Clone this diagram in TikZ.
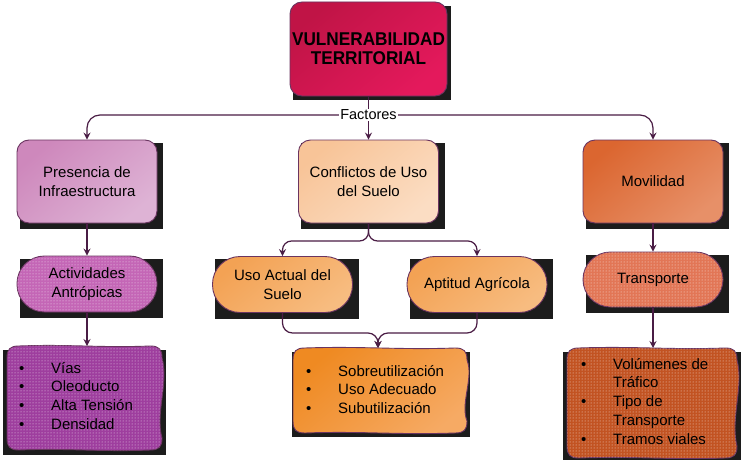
\documentclass[tikz,border=0pt]{standalone}
\usepackage{fontspec}
\setmainfont{Liberation Sans}
\newfontfamily\titlefont[FakeStretch=0.93]{Liberation Sans}
\usetikzlibrary{patterns,arrows.meta,backgrounds}
\definecolor{topA}{HTML}{C01446}
\definecolor{topB}{HTML}{E4195C}
\definecolor{presA}{HTML}{CE88BC}
\definecolor{presB}{HTML}{DEB3D5}
\definecolor{confA}{HTML}{F8C498}
\definecolor{confB}{HTML}{FBDDC3}
\definecolor{movA}{HTML}{DB6630}
\definecolor{movB}{HTML}{E79068}
\definecolor{actBase}{HTML}{C466B6}
\definecolor{usoA}{HTML}{F3A254}
\definecolor{usoB}{HTML}{F7BC80}
\definecolor{traBase}{HTML}{E27656}
\definecolor{viasBase}{HTML}{9E3E9E}
\definecolor{sobA}{HTML}{EF8A22}
\definecolor{sobB}{HTML}{F6AA64}
\definecolor{volBase}{HTML}{C25322}
\definecolor{edgec}{HTML}{6A3460}
\definecolor{linec}{HTML}{4A1D45}
\definecolor{shadowc}{HTML}{1C1C1C}
\newcommand\tapeshape[5]{%
\path[#5] (#1,#2+12) .. controls (#1,#2+3) and (#1+3,#2) .. (#1+12,#2)
 .. controls ({#1+0.4*(#3-#1)},#2-2) and ({#1+0.6*(#3-#1)},#2+2) .. (#3-12,#2)
 .. controls (#3-3,#2) and (#3,#2+3) .. (#3,#2+12)
 .. controls (#3+7,{#2+0.35*(#4-#2)}) and (#3-7,{#2+0.65*(#4-#2)}) .. (#3,#4-12)
 .. controls (#3,#4-3) and (#3-3,#4) .. (#3-12,#4)
 .. controls ({#1+0.6*(#3-#1)},#4+2) and ({#1+0.4*(#3-#1)},#4-2) .. (#1+12,#4)
 .. controls (#1+3,#4) and (#1,#4-3) .. (#1,#4-12) -- cycle;}
\newcommand\bul{\makebox[33pt][l]{\hspace{1pt}\textbullet}}
\begin{document}
\begin{tikzpicture}[x=1pt,y=-1pt,
  conn/.style={draw=linec, line width=1.2pt},
  arr/.style={conn, -{Stealth[length=7pt,width=7pt,inset=2.5pt]}},
  basebox/.style={draw=edgec, line width=0.9pt, align=center, inner sep=0pt,
    font=\fontsize{15}{18.3}\selectfont},
  box1/.style={basebox, rounded corners=12pt, minimum width=140pt, minimum height=83pt},
  pill/.style={basebox, rounded corners=27.5pt, minimum width=140pt, minimum height=56pt},
  grad/.style 2 args={top color=#1, bottom color=#2, shading angle=40},
  dotty/.style={fill=#1, postaction={pattern=dots, pattern color=white!80!#1}},
  listtext/.style={anchor=base west, inner sep=0pt, font=\fontsize{15}{18.9}\selectfont},
  shad/.style={fill=shadowc}
]
\useasboundingbox (0,0) rectangle (741,460);

% top node
\node[basebox, rounded corners=12pt, minimum width=157pt, minimum height=94pt,
  grad={topA}{topB}, font=\titlefont\bfseries\fontsize{18.5}{19}\selectfont]
  (top) at (368.5,49) {VULNERABILIDAD\\TERRITORIAL};

% level 1
\node[box1, grad={presA}{presB}] (pres) at (87,181.5) {Presencia de\\Infraestructura};
\node[box1, grad={confA}{confB}] (conf) at (368.5,181.5) {Conflictos de Uso\\del Suelo};
\node[box1, grad={movA}{movB}] (mov) at (653,181.5) {Movilidad};

% level 2
\node[pill, dotty=actBase] (act) at (87,284) {Actividades\\Antrópicas};
\node[pill, grad={usoA}{usoB}] (uso) at (282.5,284.5) {Uso Actual del\\Suelo};
\node[pill, grad={usoA}{usoB}] (apt) at (477,284.5) {Aptitud Agrícola};
\node[pill, dotty=traBase, minimum height=55pt] (tra) at (653,279.5) {Transporte};

% level 3 shapes
\tapeshape{7}{346}{162}{450}{draw=edgec, line width=0.9pt, dotty=viasBase}
\tapeshape{293}{348}{467}{433}{draw=edgec, line width=0.9pt, grad={sobA}{sobB}}
\tapeshape{567}{348}{737}{458}{draw=edgec, line width=0.9pt, dotty=volBase}
\coordinate (viasT) at (87,346);
\coordinate (sobT) at (378,348);
\coordinate (volT) at (653,348);

\node[listtext] (vias) at (18,373) {\begin{tabular}[t]{@{}l@{}l@{}}
\bul & Vías\\ \bul & Oleoducto\\ \bul & Alta Tensión\\ \bul & Densidad\end{tabular}};
\node[listtext] (sob) at (305,376) {\begin{tabular}[t]{@{}l@{}l@{}}
\bul & Sobreutilización\\ \bul & Uso Adecuado\\ \bul & Subutilización\end{tabular}};
\node[listtext] (vol) at (580,369) {\begin{tabular}[t]{@{}l@{}l@{}}
\bul & Volúmenes de\\ & Tráfico\\ \bul & Tipo de\\ & Transporte\\ \bul & Tramos viales\end{tabular}};

% connectors
\coordinate (fj) at (368.5,115);
\draw[conn] (top.south) -- (fj);
\draw[arr, rounded corners=13pt] (fj) -| (pres.north);
\draw[arr, rounded corners=13pt] (fj) -| (mov.north);
\draw[arr] (fj) -- (conf.north);
\node[fill=white, inner sep=1pt, font=\fontsize{14.5}{16}\selectfont] (fac) at (fj) {Factores};

\draw[arr] (pres.south) -- (act.north);
\draw[arr] (act.south) -- (viasT);

\coordinate (cj) at (368.5,241);
\draw[arr, rounded corners=9pt] (conf.south) -- (cj) -| (uso.north);
\draw[arr, rounded corners=9pt] (conf.south) -- (cj) -| (apt.north);

\coordinate (mj) at (378,333);
\draw[arr, rounded corners=10pt] (uso.south) |- (mj) -- (sobT);
\draw[arr, rounded corners=10pt] (apt.south) |- (mj) -- (sobT);

\draw[arr] (mov.south) -- (tra.north);
\draw[arr] (tra.south) -- (volT);

% background and shadows
\begin{scope}[on background layer]
\fill[white] (0,0) rectangle (741,460);
\fill[shad] ([xshift=3pt,yshift=-4pt]top.north west) rectangle ([xshift=4pt,yshift=-4pt]top.south east);
\foreach \n in {pres,conf,mov,act,uso,apt,tra}{
  \fill[shad] ([xshift=3pt,yshift=-3pt]\n.north west) rectangle ([xshift=6pt,yshift=-6pt]\n.south east);
}
\fill[shad] (3,350) rectangle (166,455);
\fill[shad] (292,352) rectangle (470,437);
\fill[shad] (563,352) rectangle (741,460);
\end{scope}
\end{tikzpicture}
\end{document}
